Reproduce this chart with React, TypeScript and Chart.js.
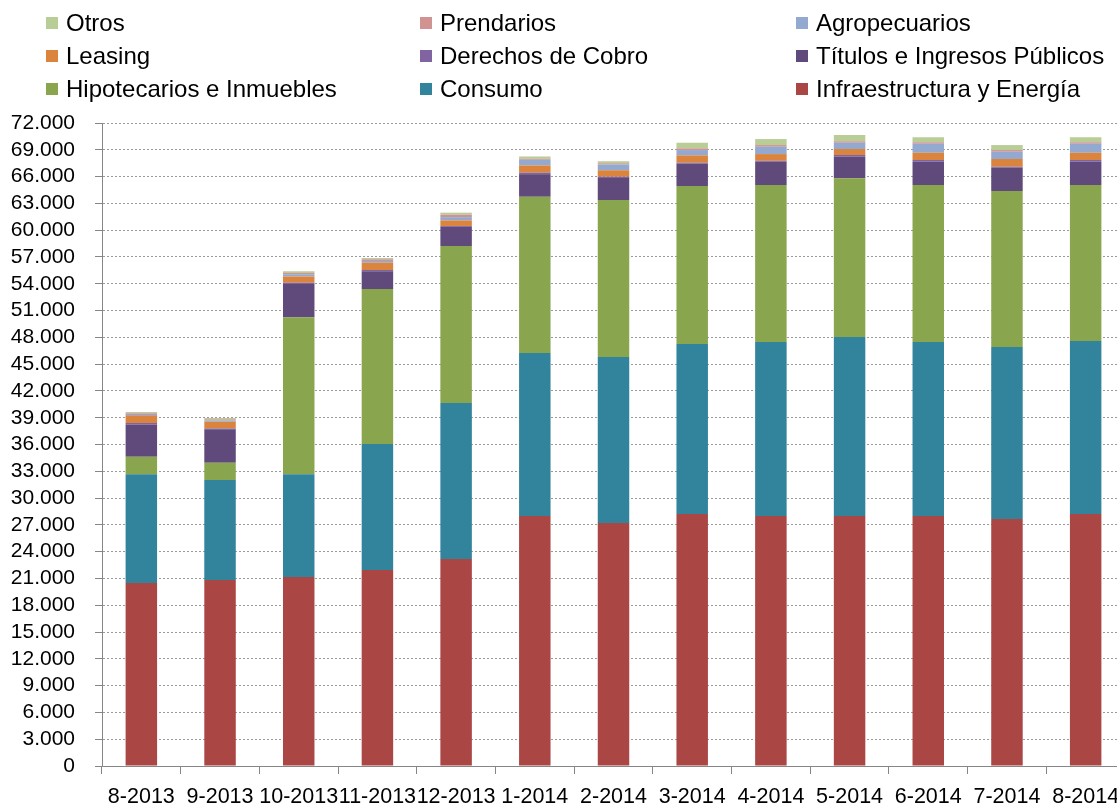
import React, { useEffect, useRef } from 'react';
import { Chart, registerables } from 'chart.js';

Chart.register(...registerables);

const categories = [
  '8-2013', '9-2013', '10-2013', '11-2013', '12-2013', '1-2014', '2-2014',
  '3-2014', '4-2014', '5-2014', '6-2014', '7-2014', '8-2014',
];

const infraestructura = [20490, 20830, 21160, 21950, 23180, 27990, 27210, 28220, 27990, 27990, 27990, 27660, 28220];
const consumo = [12170, 11190, 11500, 14100, 17470, 18250, 18590, 19030, 19490, 20050, 19490, 19260, 19370];
const hipotecarios = [1970, 1940, 17600, 17360, 17570, 17500, 17570, 17690, 17570, 17760, 17570, 17460, 17460];
const titulos = [3590, 3740, 3700, 1980, 2150, 2530, 2480, 2510, 2610, 2420, 2610, 2610, 2610];
const derechos = [190, 100, 150, 150, 100, 160, 130, 100, 110, 190, 190, 110, 190];
const leasing = [780, 750, 700, 810, 620, 820, 740, 830, 750, 670, 820, 870, 820];
const agropecuarios = [100, 150, 250, 200, 370, 630, 630, 590, 820, 710, 1010, 810, 1010];
const prendarios = [200, 120, 150, 190, 270, 110, 150, 190, 190, 160, 160, 190, 160];
const otros = [140, 150, 200, 140, 230, 260, 220, 630, 670, 700, 560, 560, 560];

const yMin = 0;
const yMax = 72000;
const yStep = 3000;

const FONT = "'Liberation Sans', Arial, sans-serif";

const series = [
  { label: 'Infraestructura y Energía', data: infraestructura, color: '#AA4643' },
  { label: 'Consumo', data: consumo, color: '#31849B' },
  { label: 'Hipotecarios e Inmuebles', data: hipotecarios, color: '#89A54E' },
  { label: 'Títulos e Ingresos Públicos', data: titulos, color: '#604A7B' },
  { label: 'Derechos de Cobro', data: derechos, color: '#8064A2' },
  { label: 'Leasing', data: leasing, color: '#DB843D' },
  { label: 'Agropecuarios', data: agropecuarios, color: '#93A9CF' },
  { label: 'Prendarios', data: prendarios, color: '#D19392' },
  { label: 'Otros', data: otros, color: '#B9CD96' },
];

// legend grid order (row by row, as in the reference)
const legendOrder = [
  'Otros', 'Prendarios', 'Agropecuarios',
  'Leasing', 'Derechos de Cobro', 'Títulos e Ingresos Públicos',
  'Hipotecarios e Inmuebles', 'Consumo', 'Infraestructura y Energía',
];

function formatThousands(v: number): string {
  return String(Math.round(v)).replace(/\B(?=(\d{3})+(?!\d))/g, '.');
}

const legendCols = [46, 420, 796];
const legendRows = [23, 56, 89];

export default function App() {
  const canvasRef = useRef<HTMLCanvasElement | null>(null);

  useEffect(() => {
    const canvas = canvasRef.current;
    if (!canvas) return;
    const chart = new Chart(canvas, {
      type: 'bar',
      data: {
        labels: categories,
        datasets: series.map((s) => ({
          label: s.label,
          data: s.data,
          backgroundColor: s.color,
          borderWidth: 0,
          barPercentage: 0.4,
          categoryPercentage: 1,
        })),
      },
      options: {
        responsive: false,
        animation: false,
        devicePixelRatio: 1,
        layout: { padding: { top: 123, left: 0, right: 0, bottom: 0 } },
        plugins: {
          legend: { display: false },
          tooltip: { enabled: false },
        },
        scales: {
          x: {
            stacked: true,
            offset: true,
            grid: {
              display: true,
              drawOnChartArea: false,
              drawTicks: true,
              tickLength: 8,
              tickColor: '#868686',
              offset: true,
            },
            border: { display: true, color: '#868686', width: 1 },
            ticks: {
              color: '#000',
              font: { family: FONT, size: 21.5 },
              padding: 10,
              maxRotation: 0,
              minRotation: 0,
              autoSkip: false,
            },
            afterFit: (s: any) => {
              s.height = 39;
              s.paddingLeft = 0;
              s.paddingRight = 0;
            },
          },
          y: {
            stacked: true,
            min: yMin,
            max: yMax,
            ticks: {
              stepSize: yStep,
              autoSkip: false,
              color: '#000',
              font: { family: FONT, size: 21 },
              padding: 20,
              callback: (v: any) => formatThousands(Number(v)),
            },
            grid: {
              color: '#9a9a9a',
              lineWidth: 1,
              drawTicks: true,
              tickLength: 7,
              tickColor: '#868686',
              tickBorderDash: [],
            },
            border: { display: true, color: '#868686', width: 1, dash: [2, 2] },
            afterFit: (s: any) => {
              s.width = 102;
              s.paddingTop = 0;
              s.paddingBottom = 0;
            },
          },
        },
      },
    });
    return () => chart.destroy();
  }, []);

  return (
    <div
      style={{
        position: 'absolute',
        left: 0,
        top: 0,
        width: 1117,
        height: 805,
        overflow: 'hidden',
        background: '#fff',
      }}
    >
      <canvas
        ref={canvasRef}
        width={1125}
        height={805}
        style={{ position: 'absolute', left: 0, top: 0, width: 1125, height: 805, display: 'block' }}
      />
      {legendOrder.map((name, i) => {
        const s = series.find((x) => x.label === name)!;
        const col = i % 3;
        const row = Math.floor(i / 3);
        return (
          <div
            key={name}
            style={{
              position: 'absolute',
              left: legendCols[col],
              top: legendRows[row] - 15,
              height: 30,
              display: 'flex',
              alignItems: 'center',
              fontFamily: FONT,
              fontSize: 24,
              color: '#000',
              whiteSpace: 'nowrap',
            }}
          >
            <span
              style={{
                display: 'inline-block',
                width: 12,
                height: 12,
                background: s.color,
                marginRight: 8,
              }}
            />
            <span>{name}</span>
          </div>
        );
      })}
    </div>
  );
}
